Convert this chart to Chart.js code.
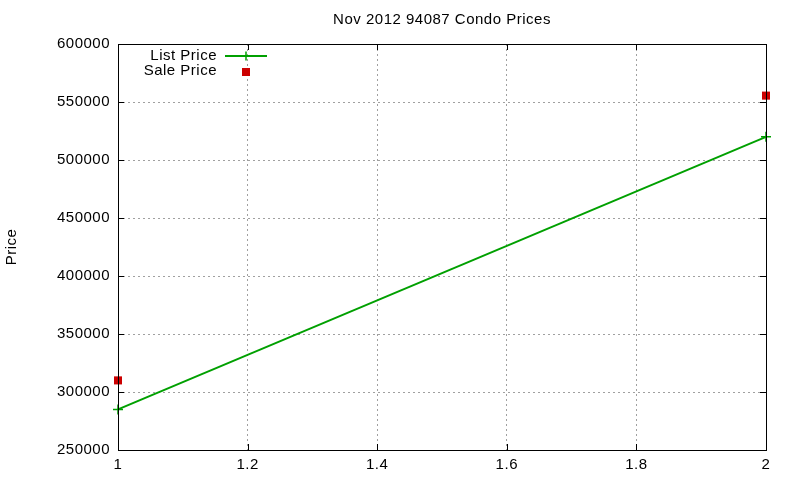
<!DOCTYPE html>
<html lang="en">
<head>
  <meta charset="UTF-8">
  <title>Nov 2012 94087 Condo Prices</title>
  <script src="https://cdn.jsdelivr.net/npm/chart.js"></script>
  <style>
    body { margin: 0; background: #fff; }
    #wrap { width: 800px; height: 480px; }
  </style>
</head>
<body>
  <div id="wrap"><canvas id="priceChart" width="800" height="480"></canvas></div>

<script>
  const chartTitle = 'Nov 2012 94087 Condo Prices';
  const yTitle = 'Price';
  const xValues = [1, 2];
  const listPrice = [285000, 520000];
  const salePrice = [310000, 555500];
  const seriesNames = ['List Price', 'Sale Price'];

  const FONT = '"Liberation Sans", Arial, sans-serif';
  const FONT_SIZE = 15;
  const GREEN = '#00a000';
  const RED = '#cc0000';

  // gnuplot text runs a bit wider than plain Arial
  const wideText = {
    id: 'wideText',
    beforeDraw(chart) {
      chart.ctx.letterSpacing = '0.5px';
    }
  };

  // frame, inward ticks, title, y label and the key, gnuplot style
  const gnuplotBits = {
    id: 'gnuplotBits',
    afterDraw(chart) {
      const ctx = chart.ctx;
      const a = chart.chartArea;
      const xs = chart.scales.x, ys = chart.scales.y;
      ctx.save();
      ctx.strokeStyle = '#000';
      ctx.lineWidth = 1;
      ctx.setLineDash([]);
      ctx.beginPath();
      xs.ticks.forEach(t => {
        const px = Math.round(xs.getPixelForValue(t.value)) + 0.5;
        ctx.moveTo(px, a.bottom); ctx.lineTo(px, a.bottom - 6);
        ctx.moveTo(px, a.top); ctx.lineTo(px, a.top + 6);
      });
      ys.ticks.forEach(t => {
        const py = Math.round(ys.getPixelForValue(t.value)) + 0.5;
        ctx.moveTo(a.left, py); ctx.lineTo(a.left + 6, py);
        ctx.moveTo(a.right, py); ctx.lineTo(a.right - 6, py);
      });
      ctx.stroke();
      ctx.strokeRect(Math.round(a.left) + 0.5, Math.round(a.top) + 0.5,
                     Math.round(a.right - a.left), Math.round(a.bottom - a.top));

      ctx.letterSpacing = '0.5px';
      ctx.fillStyle = '#000';
      ctx.font = FONT_SIZE + 'px ' + FONT;
      ctx.textAlign = 'center';
      ctx.textBaseline = 'middle';
      ctx.fillText(chartTitle, (a.left + a.right) / 2, 20);

      ctx.save();
      ctx.translate(12, (a.top + a.bottom) / 2);
      ctx.rotate(-Math.PI / 2);
      ctx.fillText(yTitle, 0, 0);
      ctx.restore();

      // key
      ctx.textAlign = 'right';
      const keyX = 217, sx = 246;
      const rows = [56, 71];
      chart.data.datasets.forEach((ds, i) => {
        const y = rows[i];
        ctx.fillStyle = '#000';
        ctx.fillText(ds.label, keyX, y);
        if (i === 0) {
          ctx.strokeStyle = GREEN;
          ctx.lineWidth = 2;
          ctx.beginPath();
          ctx.moveTo(225, y); ctx.lineTo(267, y);
          ctx.stroke();
          ctx.lineWidth = 1.5;
          ctx.beginPath();
          ctx.moveTo(sx, y - 4.5); ctx.lineTo(sx, y + 4.5);
          ctx.stroke();
        } else {
          ctx.fillStyle = RED;
          ctx.fillRect(sx - 4, y - 3, 8, 8);
        }
      });
      ctx.restore();
    }
  };

  const ctx = document.getElementById('priceChart').getContext('2d');
  new Chart(ctx, {
    type: 'line',
    data: {
      datasets: [
        {
          label: seriesNames[0],
          data: xValues.map((x, i) => ({ x: x, y: listPrice[i] })),
          borderColor: GREEN,
          backgroundColor: GREEN,
          borderWidth: 2,
          pointStyle: 'cross',
          pointRadius: 5,
          pointBorderWidth: 1.5,
          fill: false,
          clip: false
        },
        {
          label: seriesNames[1],
          data: xValues.map((x, i) => ({ x: x, y: salePrice[i] })),
          showLine: false,
          borderColor: RED,
          backgroundColor: RED,
          pointStyle: 'rect',
          pointRadius: 5.7,
          pointBorderWidth: 0,
          clip: false
        }
      ]
    },
    options: {
      responsive: false,
      animation: false,
      devicePixelRatio: 1,
      layout: { padding: { top: 44, right: 34, left: 0, bottom: 0 } },
      plugins: {
        legend: { display: false },
        title: { display: false },
        tooltip: { enabled: false }
      },
      scales: {
        x: {
          type: 'linear',
          min: 1,
          max: 2,
          ticks: {
            stepSize: 0.2,
            padding: 6,
            color: '#000',
            font: { family: FONT, size: FONT_SIZE },
            callback: v => String(Math.round(v * 10) / 10)
          },
          grid: { color: '#a0a0a0', lineWidth: 1, drawTicks: false },
          border: { display: false, dash: [2, 3] },
          afterFit: s => { s.height = 30; }
        },
        y: {
          min: 250000,
          max: 600000,
          ticks: {
            stepSize: 50000,
            padding: 8,
            color: '#000',
            font: { family: FONT, size: FONT_SIZE },
            callback: v => String(v)
          },
          grid: { color: '#a0a0a0', lineWidth: 1, drawTicks: false },
          border: { display: false, dash: [2, 3] },
          afterFit: s => { s.width = 118; }
        }
      }
    },
    plugins: [wideText, gnuplotBits]
  });
</script>
</body>
</html>
